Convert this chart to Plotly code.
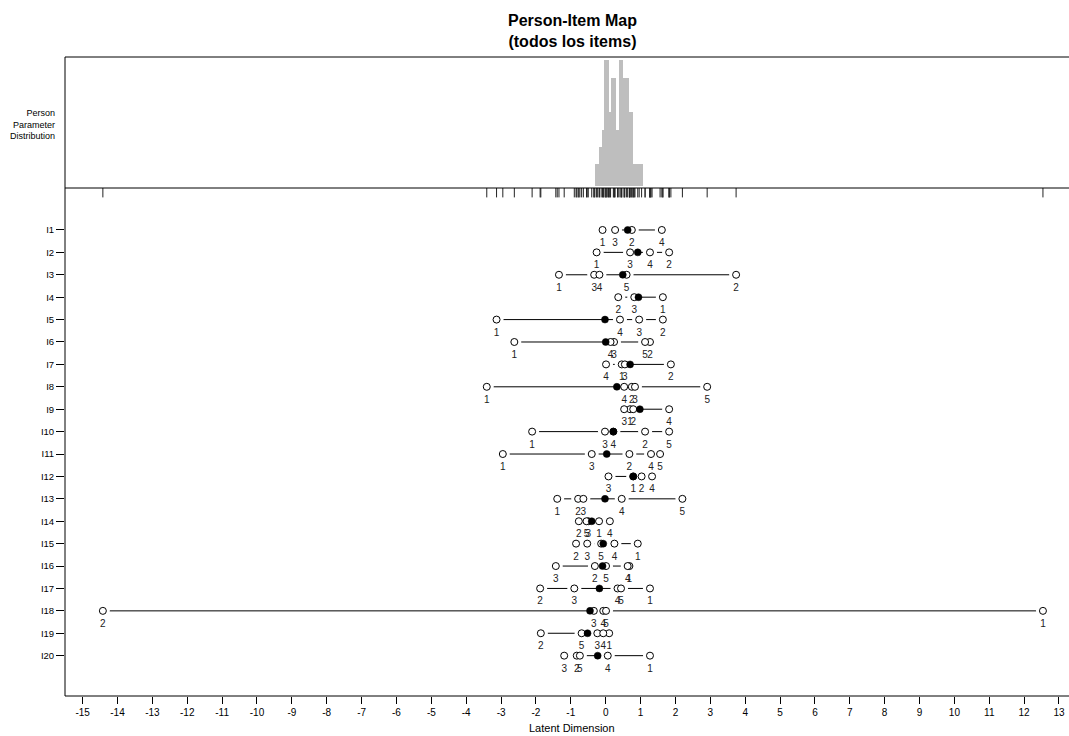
import plotly.graph_objects as go

# ---------------- data ----------------
item_names = [f"I{i}" for i in range(1, 21)]

# threshold locations, listed in threshold order (1, 2, 3, ...)
thr_I1 = [-0.09, 0.75, 0.27, 1.61]
thr_I2 = [-0.26, 1.82, 0.70, 1.27]
thr_I3 = [-1.34, 3.74, -0.33, -0.18, 0.60]
thr_I4 = [1.64, 0.36, 0.82]
thr_I5 = [-3.13, 1.64, 0.96, 0.41]
thr_I6 = [-2.62, 1.27, 0.24, 0.14, 1.13]
thr_I7 = [0.46, 1.87, 0.55, 0.01]
thr_I8 = [-3.41, 0.75, 0.84, 0.53, 2.91]
thr_I9 = [0.70, 0.79, 0.53, 1.82]
thr_I10 = [-2.11, 1.13, -0.02, 0.22, 1.82]
thr_I11 = [-2.95, 0.68, -0.40, 1.30, 1.56]
thr_I12 = [0.79, 1.03, 0.08, 1.33]
thr_I13 = [-1.39, -0.79, -0.64, 0.46, 2.20]
thr_I14 = [-0.19, -0.77, -0.50, 0.12, -0.55]
thr_I15 = [0.92, -0.85, -0.53, 0.25, -0.13]
thr_I16 = [0.68, -0.31, -1.43, 0.63, 0.01]
thr_I17 = [1.27, -1.88, -0.90, 0.34, 0.44]
thr_I18 = [12.54, -14.42, -0.34, -0.07, 0.01]
thr_I19 = [0.10, -1.86, -0.24, -0.07, -0.69]
thr_I20 = [1.27, -0.83, -1.19, 0.06, -0.74]

# item locations (filled dots)
item_location = [0.63, 0.92, 0.49, 0.94, -0.02, 0.00, 0.70, 0.32, 0.98, 0.22,
                  0.03, 0.79, -0.02, -0.40, -0.07, -0.09, -0.18, -0.45, -0.52, -0.23]

# person parameter distribution (bar edges and heights)
hist_left = [-0.307, -0.184, -0.098, -0.040, 0.095, 0.143, 0.295, 0.373, 0.505, 0.677, 0.792]
hist_right = [-0.184, -0.098, -0.040, 0.095, 0.143, 0.295, 0.373, 0.505, 0.677, 0.792, 1.061]
hist_height = [1.26, 2.21, 3.20, 7.20, 4.21, 6.19, 3.20, 7.20, 6.19, 4.21, 1.26]

x_ticks = list(range(-15, 14))
x_tick_labels = [str(v) for v in x_ticks]

thresholds = [thr_I1, thr_I2, thr_I3, thr_I4, thr_I5, thr_I6, thr_I7, thr_I8, thr_I9, thr_I10,
              thr_I11, thr_I12, thr_I13, thr_I14, thr_I15, thr_I16, thr_I17, thr_I18, thr_I19, thr_I20]

# ---------------- styling constants ----------------
FONT = "Liberation Sans, Arial, sans-serif"
W, H = 1069, 736
ML, MR, MT, MB = 65, 0, 57, 40
plot_h = H - MT - MB
split = (696 - 188) / plot_h
LABEL_OFFSET = 0.60
RUG_Y = -0.672

fig = go.Figure()

# histogram
fig.add_trace(go.Bar(
    x=[(l + r) / 2 for l, r in zip(hist_left, hist_right)],
    width=[r - l for l, r in zip(hist_left, hist_right)],
    y=hist_height, xaxis="x", yaxis="y2",
    marker=dict(color="#BEBEBE", line=dict(width=0)),
    hoverinfo="skip"))

# rug of all thresholds
all_thr = [t for thr in thresholds for t in thr]
fig.add_trace(go.Scatter(
    x=all_thr, y=[RUG_Y] * len(all_thr), mode="markers",
    marker=dict(symbol="line-ns-open", size=7, color="#222",
                line=dict(width=1, color="#222")),
    hoverinfo="skip"))

# connecting lines
lx, ly = [], []
for i, thr in enumerate(thresholds, start=1):
    s = sorted(thr)
    lx += s + [None]
    ly += [i] * len(s) + [None]
fig.add_trace(go.Scatter(x=lx, y=ly, mode="lines",
                         line=dict(color="black", width=1), hoverinfo="skip"))

px_, py_, tx, ty, tt = [], [], [], [], []
for i, thr in enumerate(thresholds, start=1):
    for k, t in enumerate(thr, start=1):
        px_.append(t)
        py_.append(i)
        tx.append(t)
        ty.append(i + LABEL_OFFSET)
        tt.append(str(k))

# gaps around points (type="b" look)
fig.add_trace(go.Scatter(x=px_, y=py_, mode="markers",
                         marker=dict(symbol="circle", size=14, color="white", line=dict(width=0)),
                         hoverinfo="skip"))
# open circles
fig.add_trace(go.Scatter(x=px_, y=py_, mode="markers",
                         marker=dict(symbol="circle", size=7, color="white",
                                     line=dict(width=1, color="black")),
                         hoverinfo="skip"))
# item locations
fig.add_trace(go.Scatter(x=item_location, y=list(range(1, 21)), mode="markers",
                         marker=dict(symbol="circle", size=7, color="black",
                                     line=dict(width=0.5, color="black")),
                         hoverinfo="skip"))
# threshold labels
fig.add_trace(go.Scatter(x=tx, y=ty, mode="text", text=tt, textposition="middle center",
                         textfont=dict(family=FONT, size=10, color="#222"),
                         hoverinfo="skip"))

axis_font = dict(family=FONT, size=10, color="black")
fig.update_layout(
    width=W, height=H,
    margin=dict(l=ML, r=MR, t=MT, b=MB),
    paper_bgcolor="white", plot_bgcolor="white",
    showlegend=False,
    xaxis=dict(range=[-15.506, 13.287], tickvals=x_ticks, ticktext=x_tick_labels,
               ticks="outside", ticklen=7,
               tickwidth=1, tickcolor="black", showgrid=False, zeroline=False,
               showline=False, tickfont=axis_font, anchor="y", fixedrange=True),
    yaxis=dict(domain=[0, split], range=[21.80, -0.873], tickvals=list(range(1, 21)),
               ticktext=item_names, ticks="outside", ticklen=8, tickwidth=1,
               tickcolor="black", showgrid=False, zeroline=False, showline=False,
               tickfont=dict(family=FONT, size=9.5, color="black"), anchor="x"),
    yaxis2=dict(domain=[split, 1], range=[-0.114, 7.37], showticklabels=False,
                ticks="", showgrid=False, zeroline=False, showline=False, anchor="x"),
    bargap=0,
)

line_style = dict(color="black", width=1)
fig.add_shape(type="line", xref="paper", yref="paper", x0=0, x1=1, y0=0, y1=0, line=line_style)
fig.add_shape(type="line", xref="paper", yref="paper", x0=0, x1=1, y0=1, y1=1, line=line_style)
fig.add_shape(type="line", xref="paper", yref="paper", x0=0, x1=1, y0=split, y1=split, line=line_style)
fig.add_shape(type="line", xref="paper", yref="paper", x0=0, x1=0, y0=0, y1=1, line=line_style)

cx = (572 - ML) / (W - ML - MR)
fig.add_annotation(text="<b>Person-Item Map</b><br><b>(todos los items)</b>",
                   xref="paper", yref="paper", x=cx, y=(696 - 31) / plot_h,
                   xanchor="center", yanchor="middle", showarrow=False,
                   font=dict(family=FONT, size=16, color="black"))
fig.add_annotation(text="Latent Dimension", xref="paper", yref="paper",
                   x=cx, y=(696 - 728) / plot_h, xanchor="center", yanchor="middle",
                   showarrow=False, font=dict(family=FONT, size=11, color="black"))
fig.add_annotation(text="Person<br>Parameter<br>Distribution", xref="paper", yref="paper",
                   x=(57 - ML) / (W - ML - MR), y=(696 - 125) / plot_h,
                   xanchor="right", yanchor="middle", align="right", showarrow=False,
                   font=dict(family=FONT, size=9, color="black"))

fig.write_html("out.html")
